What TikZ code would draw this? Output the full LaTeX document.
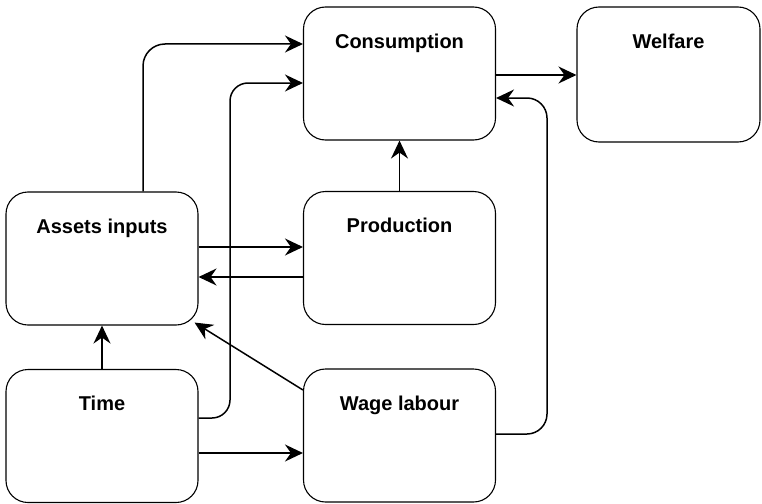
\documentclass[tikz,border=0pt]{standalone}
\usepackage{fontspec}
\setmainfont{Liberation Sans}
\usepackage{tikz}
\usetikzlibrary{calc,arrows.meta}

\begin{document}
\begin{tikzpicture}[x=1pt,y=-1pt,
    box/.style={draw, line width=1.1pt, rounded corners=22pt, minimum width=192pt, minimum height=133pt},
    lab/.style={anchor=base, font=\fontsize{20}{24}\selectfont\bfseries},
    arr/.style={-{Stealth[length=18pt,width=17pt,inset=6pt]}, line width=1.5pt}]
    \useasboundingbox (0,0) rectangle (762,503);
    \def\lo{42pt}
    \node[box] (cons) at (399.5,73.5) {};
    \node[box, minimum width=183pt, minimum height=135pt] (welf) at (668.5,74.5) {};
    \node[box] (assets) at (102,258.5) {};
    \node[box] (prod) at (399.5,258) {};
    \node[box] (time) at (102,436) {};
    \node[box] (wage) at (399.5,435.5) {};
    \node[lab] (consL) at ([yshift=-\lo]cons.north) {Consumption};
    \node[lab] (welfL) at ([yshift=-\lo]welf.north) {Welfare};
    \node[lab] (assetsL) at ([yshift=-\lo]assets.north) {Assets inputs};
    \node[lab] (prodL) at ([yshift=-\lo]prod.north) {Production};
    \node[lab] (timeL) at ([yshift=-\lo]time.north) {Time};
    \node[lab] (wageL) at ([yshift=-\lo]wage.north) {Wage labour};
    \coordinate (bendA) at (143,44);
    \coordinate (bendT) at (230,83);
    \coordinate (bendW) at (547,98);
    \draw[arr, rounded corners=22pt] ([xshift=41pt]assets.north) -- (bendA) -- ([yshift=29.5pt]cons.west);
    \draw[arr, rounded corners=18pt] ([yshift=18pt]time.east) -| (bendT) -- ([yshift=-9.5pt]cons.west);
    \draw[arr] ([yshift=-1.5pt]cons.east) -- ([yshift=-1.5pt]cons.east -| welf.west);
    \draw[arr, rounded corners=20pt] ([yshift=1.5pt]wage.east) -| (bendW) -- ([yshift=-24.5pt]cons.east);
    \draw[arr] (prod.north) -- (cons.south);
    \draw[arr] ([yshift=11.5pt]assets.east) -- ([yshift=11.5pt]assets.east -| prod.west);
    \draw[arr] ([yshift=-19pt]prod.west) -- ([yshift=-19pt]prod.west -| assets.east);
    \draw[arr] (time.north) -- (assets.south);
    \draw[arr] ([yshift=45.5pt]wage.west) -- ([shift={(-4pt,3pt)}]assets.south east);
    \draw[arr] ([yshift=-17pt]time.east) -- ([yshift=-17pt]time.east -| wage.west);
\end{tikzpicture}
\end{document}
